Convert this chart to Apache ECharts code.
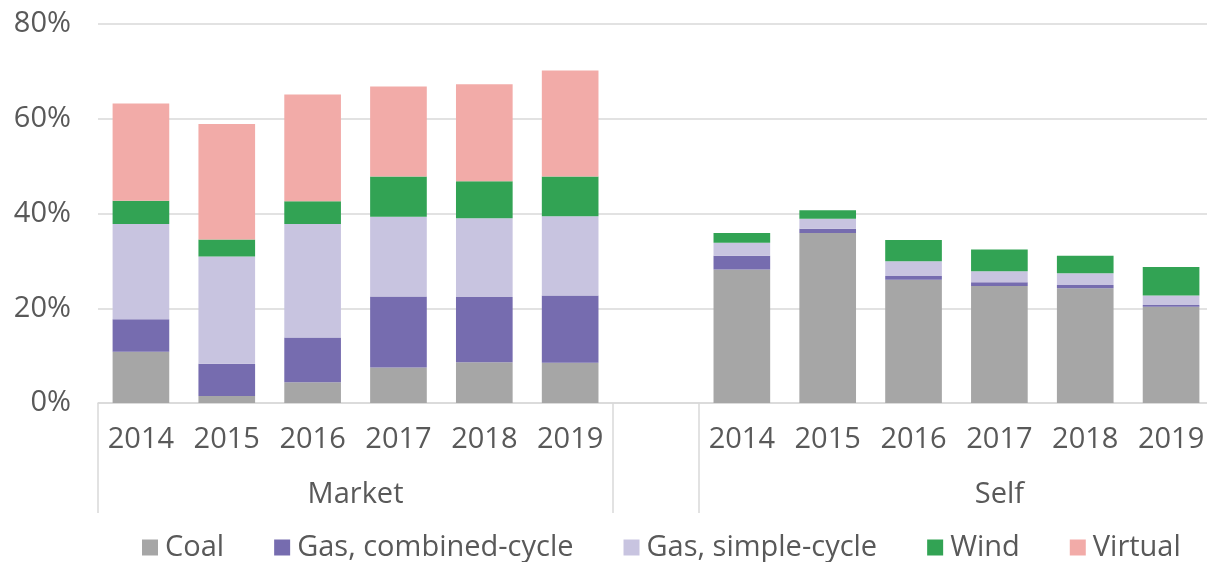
<!DOCTYPE html>
<html>
<head>
<meta charset="utf-8">
<script src="https://cdn.jsdelivr.net/npm/echarts@6/dist/echarts.min.js"></script>
<style>
  html, body { margin: 0; padding: 0; background: #fff; }
  #graphics { width: 1207px; height: 562px; }
</style>
</head>
<body>
<div id="graphics"></div>
<script>
// categories: Market 2014-2019, a blank gap, Self 2014-2019
const years = ['2014', '2015', '2016', '2017', '2018', '2019'];
const categories = years.concat([''], years);
const groups = ['Market', 'Self'];

// shares in %, Market values then gap (null) then Self values
const coal = [10.8, 1.5, 4.4, 7.5, 8.6, 8.5, null, 28.2, 35.9, 26.0, 24.7, 24.2, 20.3];
const gasCombined = [6.9, 6.8, 9.4, 15.0, 13.8, 14.2, null, 2.9, 0.9, 0.8, 0.8, 0.7, 0.4];
const gasSimple = [20.1, 22.6, 24.0, 16.8, 16.6, 16.7, null, 2.7, 2.1, 3.1, 2.3, 2.5, 2.0];
const wind = [4.9, 3.6, 4.8, 8.5, 7.8, 8.4, null, 2.1, 1.8, 4.5, 4.6, 3.7, 6.0];
const virtual = [20.5, 24.4, 22.5, 19.0, 20.5, 22.4, null, 0, 0, 0, 0, 0, 0];

const yTicks = [0, 20, 40, 60, 80];

const fontFamily = 'Open Sans';
const fontSize = 29;
const textColor = '#595959';
const lineColor = '#d9d9d9';

function makeSeries(name, data, color) {
    return {
        name: name,
        type: 'bar',
        stack: 'total',
        barWidth: '66%',
        data: data,
        itemStyle: { color: color },
        emphasis: { disabled: true }
    };
}

var myChart = echarts.init(document.getElementById('graphics'));

var option = {
    animation: false,
    textStyle: { fontFamily: fontFamily },
    grid: { left: 98, width: 1116, top: 24, bottom: 159, containLabel: false, outerBoundsMode: 'none' },
    legend: {
        left: 137,
        top: 528,
        itemWidth: 16,
        itemHeight: 16,
        itemGap: 50,
        icon: 'rect',
        textStyle: { fontSize: fontSize, color: textColor, fontFamily: fontFamily, padding: [0, 0, 0, 2] }
    },
    xAxis: [
        {
            type: 'category',
            data: categories,
            axisLine: { lineStyle: { color: lineColor, width: 1.5 } },
            axisTick: {
                show: true,
                length: 110,
                lineStyle: { color: lineColor, width: 1.5 },
                interval: function (index) { return index === 0 || index === 6 || index === 7; }
            },
            axisLabel: { interval: 0, fontSize: fontSize, color: textColor, margin: 22, fontFamily: fontFamily }
        },
        {
            type: 'value',
            position: 'bottom',
            min: 0,
            max: categories.length,
            interval: 0.5,
            axisLine: { show: false },
            axisTick: { show: false },
            splitLine: { show: false },
            axisLabel: {
                fontSize: fontSize,
                color: textColor,
                margin: 77,
                fontFamily: fontFamily,
                formatter: function (v) {
                    if (v === 3) return groups[0];
                    if (v === 10.5) return groups[1];
                    return '';
                }
            }
        }
    ],
    yAxis: {
        type: 'value',
        min: yTicks[0],
        max: yTicks[yTicks.length - 1],
        interval: 20,
        axisLine: { show: false },
        axisTick: { show: false },
        splitLine: { lineStyle: { color: lineColor, width: 1.5 } },
        axisLabel: {
            fontSize: fontSize,
            color: textColor,
            margin: 27,
            fontFamily: fontFamily,
            formatter: '{value}%'
        }
    },
    series: [
        makeSeries('Coal', coal, '#a6a6a6'),
        makeSeries('Gas, combined-cycle', gasCombined, '#766caf'),
        makeSeries('Gas, simple-cycle', gasSimple, '#c8c4e0'),
        makeSeries('Wind', wind, '#32a354'),
        makeSeries('Virtual', virtual, '#f2aba8')
    ]
};

myChart.setOption(option);
</script>
</body>
</html>
